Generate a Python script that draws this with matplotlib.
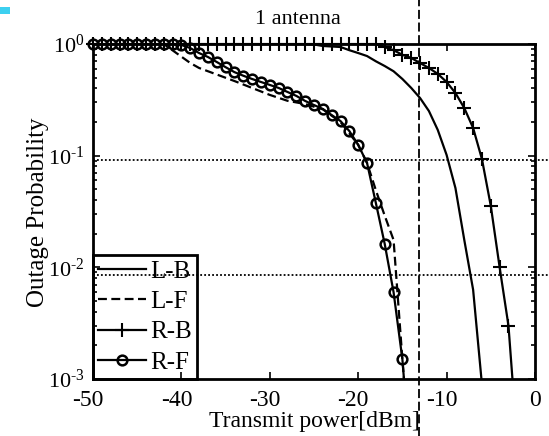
import matplotlib
matplotlib.use("Agg")
import matplotlib.pyplot as plt
import numpy as np
from matplotlib.transforms import blended_transform_factory, ScaledTranslation
from matplotlib.patches import Rectangle
from matplotlib.lines import Line2D
from matplotlib.ticker import LogLocator, FuncFormatter

plt.rcParams['font.family'] = ['Liberation Serif', 'DejaVu Serif']
plt.rcParams['mathtext.fontset'] = 'custom'
plt.rcParams['mathtext.rm'] = 'Liberation Serif'
plt.rcParams['mathtext.it'] = 'Liberation Serif:italic'
plt.rcParams['mathtext.bf'] = 'Liberation Serif:bold'

# ---- data ----
lb_x = [-50, -27, -26, -25, -24, -23, -22, -21, -20, -19, -18, -17, -16, -15, -14,
        -13, -12, -11, -10, -9, -8, -7, -6]
lb_y = [1.0, 1.0, 1.0, 0.99, 0.96, 0.95, 0.94, 0.88, 0.83, 0.78, 0.70, 0.635, 0.57,
        0.486, 0.404, 0.328, 0.251, 0.17, 0.1015, 0.0513, 0.0176, 0.0063, 0.00089]

lf_x = [-50, -42, -39, -38, -34, -30, -28, -26, -24, -22, -20, -19, -18, -17, -16, -15, -14]
lf_y = [1.0, 1.0, 0.676, 0.61, 0.466, 0.35, 0.31, 0.29, 0.26, 0.2, 0.125, 0.086,
        0.049, 0.029, 0.0176, 0.0015, 0.00015]

rb_x = list(range(-50, -1))
rb_y = [1.0] * 33 + [0.94, 0.88, 0.80, 0.75, 0.675, 0.61, 0.54, 0.457, 0.364, 0.267,
                     0.177, 0.093, 0.0355, 0.0100, 0.0030, 0.00026]

rf_x = list(range(-50, -13))
rf_y = [1.0] * 10 + [0.98, 0.92, 0.83, 0.765, 0.69, 0.62, 0.56, 0.52, 0.486, 0.457,
                     0.43, 0.404, 0.372, 0.343, 0.309, 0.284, 0.262, 0.231, 0.204,
                     0.166, 0.125, 0.086, 0.0376, 0.0162, 0.0060, 0.00150, 0.00015]

x_ticks = [-50, -40, -30, -20, -10, 0]
vline_x = -13.1
hline_y = [0.091, 0.0085]
title = "1 antenna"
xlabel = "Transmit power[dBm]"
ylabel = "Outage Probability"
labels = ["L-B", "L-F", "R-B", "R-F"]

# ---- figure ----
W, H = 549, 436
fig = plt.figure(figsize=(W / 100, H / 100), dpi=100)
ax = fig.add_axes([93 / W, 1 - 379 / H, (535 - 93) / W, (379 - 44) / H])
ax.set_xlim(-50, 0)
ax.set_yscale('log')
ax.set_ylim(1e-3, 1)

lw = 1.6
ymin = 1e-3


def draw(xs, ys, ls, marker=None, dashes=None, **mk):
    kw = dict(color='black', lw=lw)
    if dashes is not None:
        kw['dashes'] = dashes
    ax.plot(xs, ys, ls, **kw)
    if marker is not None:
        xs_in = [x for x, y in zip(xs, ys) if y >= ymin]
        ys_in = [y for y in ys if y >= ymin]
        ax.plot(xs_in, ys_in, ls='none', marker=marker, clip_on=False, zorder=3, **mk)


draw(lb_x, lb_y, '-')
draw(lf_x, lf_y, '--', dashes=(4, 2))
draw(rb_x, rb_y, '-', marker='+', ms=10, mew=1.5, color='black')
draw(rf_x, rf_y, '-', marker='o', ms=7, mew=1.8, mfc='none', mec='black')

ax.set_xticks(x_ticks)
ax.set_xticklabels([str(t) for t in x_ticks])
ax.yaxis.set_major_locator(LogLocator(base=10, numticks=10))
ax.yaxis.set_minor_locator(LogLocator(base=10, subs=np.arange(2, 10), numticks=10))


def ylog_fmt(v, pos):
    k = int(round(np.log10(v)))
    if k < 0:
        return r"$10^{\text{-}%d}$" % (-k)
    return r"$10^{%d}$" % k


ax.yaxis.set_major_formatter(FuncFormatter(ylog_fmt))

for s in ax.spines.values():
    s.set_linewidth(2.0)
ax.tick_params(which='both', direction='in', top=True, right=True, width=1.2, labelsize=17, pad=8)
ax.tick_params(which='major', length=5)
ax.tick_params(which='minor', length=3)
ax.tick_params(axis='y', labelsize=16, pad=6)

shift = ScaledTranslation(-5 / 100, 0, fig.dpi_scale_trans)
for t, v in zip(ax.get_xticklabels(), x_ticks):
    if v < 0:
        t.set_transform(t.get_transform() + shift)

ax.set_xlabel(xlabel, fontsize=17, labelpad=0)
fig.text(38 / W, 1 - 212 / H, ylabel, fontsize=18, ha='center', va='center', rotation=90)
fig.text(298 / W, 1 - 19 / H, title, fontsize=16, ha='center', va='center')

handles = [Line2D([], [], color='black', lw=lw, ls='-'),
           Line2D([], [], color='black', lw=lw, ls='--', dashes=(4, 2)),
           Line2D([], [], color='black', lw=lw, ls='-', marker='+', ms=10, mew=1.5),
           Line2D([], [], color='black', lw=lw, ls='-', marker='o', ms=7, mew=1.8, mfc='none')]
leg = ax.legend(handles, labels, loc='lower left', bbox_to_anchor=(0, 0), borderaxespad=0,
                fontsize=18, handlelength=1.9, handletextpad=0.2, labelspacing=0.32,
                borderpad=0.2, fancybox=False, framealpha=1, edgecolor='black')
leg.get_frame().set_linewidth(2.0)
leg.get_frame().set_facecolor('none')

# reference lines extending outside the axes
tv = blended_transform_factory(ax.transData, fig.transFigure)
ax.add_line(Line2D([vline_x, vline_x], [0, 1], transform=tv, color='black',
                   lw=1.3, ls=(0, (5, 2)), clip_on=False, zorder=6))
th = blended_transform_factory(fig.transFigure, ax.transData)
for yv in hline_y:
    ax.add_line(Line2D([93 / W, 1], [yv, yv], transform=th, color='black',
                       lw=1.3, ls=(0, (1, 1.2)), clip_on=False, zorder=6))

fig.patches.append(Rectangle((0, 1 - 14 / H), 10 / W, 7 / H, transform=fig.transFigure,
                             facecolor='#3DD0F0', edgecolor='none'))

fig.savefig('out.png', dpi=100)
